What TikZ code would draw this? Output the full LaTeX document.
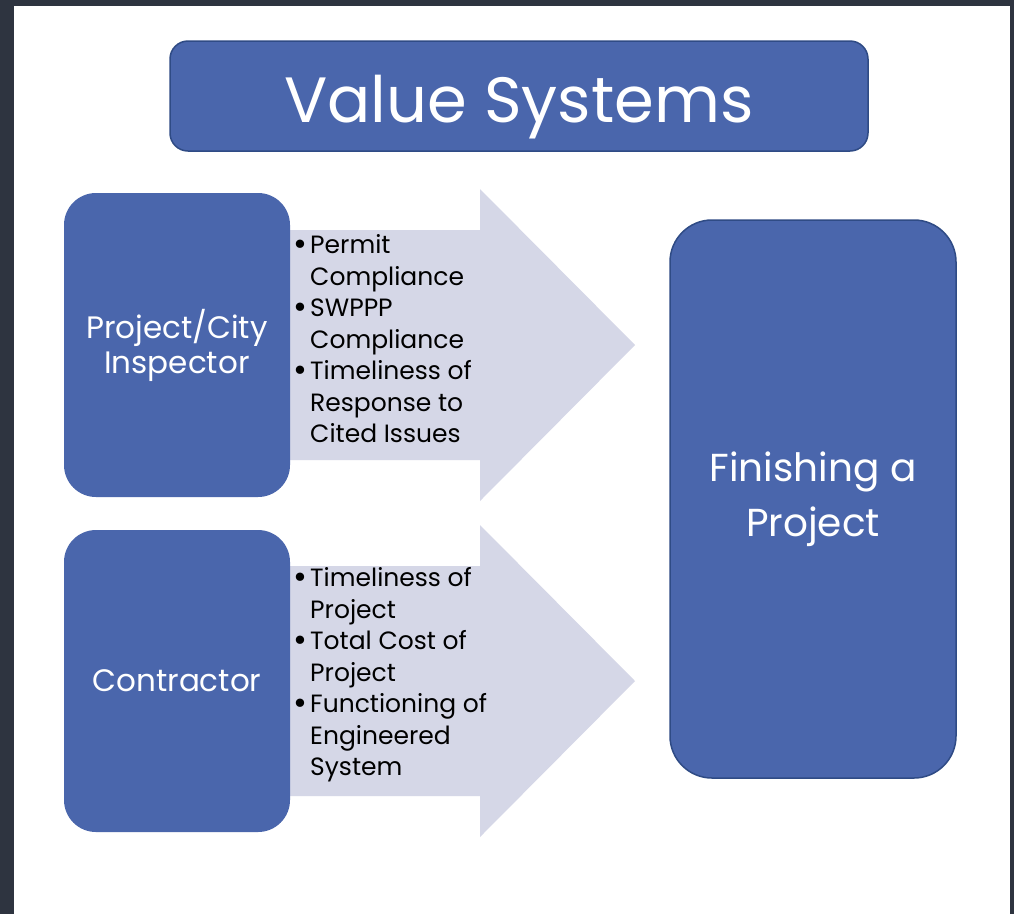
\documentclass[tikz,border=0pt]{standalone}
\usepackage{fontspec}
\usepackage{graphicx}
\setmainfont{Poppins}
\usetikzlibrary{positioning,backgrounds}

\definecolor{boxblue}{HTML}{4A66AC}
\definecolor{boxline}{HTML}{2F4B85}
\definecolor{arrowfill}{HTML}{D5D7E7}
\definecolor{framedark}{HTML}{2E3440}

\newcommand{\bitem}{\makebox[17pt][l]{\raisebox{-2pt}{\scalebox{1.35}{\textbullet}}}}
\newcommand{\bcont}{\hspace*{17pt}}

\tikzset{
  box/.style={fill=boxblue, text=white, align=center, inner sep=0pt,
    outer sep=0pt, rounded corners=32pt, font=\fontsize{31}{35}\selectfont},
  edged/.style={draw=boxline, line width=1.5pt},
  arrowbody/.style={fill=arrowfill},
  list/.style={align=left, inner sep=0pt, font=\fontsize{25}{31.5}\selectfont},
}

\begin{document}
\begin{tikzpicture}[x=1pt, y=-1pt]
\useasboundingbox (0,0) rectangle (1014,914);

% Define nodes
\node[box, edged, minimum width=698pt, minimum height=110pt, rounded corners=18pt,
  text height=60pt, text depth=8pt, font=\fontsize{64}{70}\selectfont] (title) at (519,96) {Value Systems};
\node[box, minimum width=226pt, minimum height=304pt] (insp) at (177,345) {Project/City\\Inspector};
\node[box, minimum width=226pt, minimum height=302pt, below=33pt of insp] (contr) {Contractor};
\node[box, edged, minimum width=286pt, minimum height=558pt, rounded corners=42pt,
  font=\fontsize{39}{55}\selectfont] (finish) at (813,499) {Finishing a\\Project};

% Lists
\node[list, right=3pt of insp, yshift=6pt] (insplist) {\bitem Permit\\\bcont Compliance\\
  \bitem SWPPP\\\bcont Compliance\\\bitem Timeliness of\\\bcont Response to\\\bcont Cited Issues};
\node[list, right=3pt of contr, yshift=6pt] (contrlist) {\bitem Timeliness of\\\bcont Project\\
  \bitem Total Cost of\\\bcont Project\\\bitem Functioning of\\\bcont Engineered\\\bcont System};

% Frame and arrows
\begin{pgfonlayer}{background}
\fill[framedark] (0,0) rectangle (1014,914);
\fill[white] (14,6) rectangle (1010,914);
\fill[arrowbody] (insp.east) ++(-5,-115) -- ++(195,0) -- ++(0,-41) -- ++(155,156)
  -- ++(-155,156) -- ++(0,-41) -- ++(-195,0) -- cycle;
\fill[arrowbody] (contr.east) ++(-5,-115) -- ++(195,0) -- ++(0,-41) -- ++(155,156)
  -- ++(-155,156) -- ++(0,-41) -- ++(-195,0) -- cycle;
\end{pgfonlayer}
\end{tikzpicture}
\end{document}
